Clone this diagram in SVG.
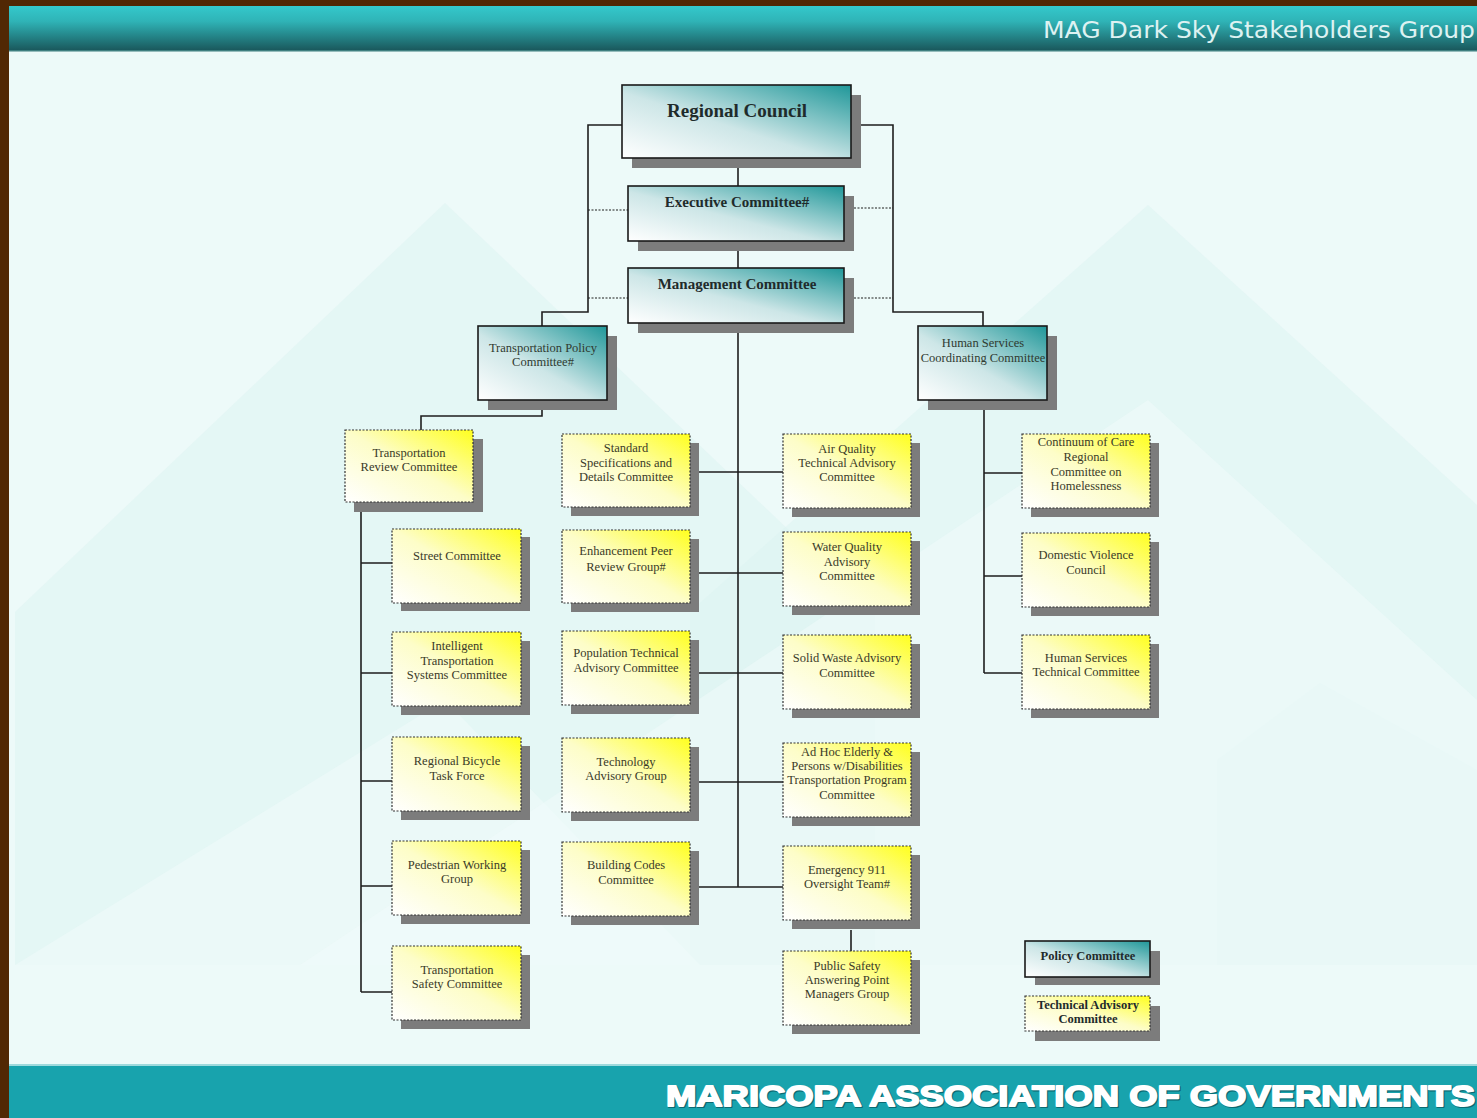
<svg xmlns="http://www.w3.org/2000/svg" width="1477" height="1118" viewBox="0 0 1477 1118">
<defs>
<linearGradient id="hdr" x1="0" y1="0" x2="0" y2="1">
<stop offset="0" stop-color="#34C9CC"/><stop offset="0.35" stop-color="#2FB3B6"/><stop offset="1" stop-color="#1A595D"/>
</linearGradient>
<linearGradient id="teal" x1="0" y1="1" x2="1" y2="0">
<stop offset="0" stop-color="#FFFFFF"/><stop offset="0.45" stop-color="#CDE6E7"/><stop offset="1" stop-color="#1F9799"/>
</linearGradient>
<linearGradient id="yel" x1="0" y1="1" x2="1" y2="0">
<stop offset="0" stop-color="#FFFFFF"/><stop offset="0.5" stop-color="#FDFDC8"/><stop offset="1" stop-color="#FFFF1E"/>
</linearGradient>
<style>
.sh{fill:#7C7C7C}
.tb{fill:url(#teal);stroke:#1A1A1A;stroke-width:1.6}
.yb{fill:url(#yel);stroke:#333;stroke-width:1.2;stroke-dasharray:2 1.5}
.ln{stroke:#1E1E1E;stroke-width:1.6;fill:none}
.dl{stroke:#1E1E1E;stroke-width:1.2;fill:none;stroke-dasharray:2 1.5}
.tt{font-family:"Liberation Serif",serif;font-weight:bold;fill:#1F2B2B;text-anchor:middle}
.t1{font-family:"Liberation Serif",serif;font-size:12.5px;fill:#2F3A30;text-anchor:middle}
.ty{font-family:"Liberation Serif",serif;font-size:12.5px;fill:#3A3A28;text-anchor:middle}
.wm{fill:#DCF3F2;opacity:0.5}
.ft{font-family:"Liberation Sans",sans-serif;font-weight:bold;font-size:30px}
</style>
</defs>
<rect x="0" y="0" width="1477" height="1118" fill="#512804"/>
<rect x="9" y="50" width="1468" height="1016" fill="#EDFAF9"/>
<g id="watermark">
<polygon class="wm" points="15,612 445,203 875,612 875,965 15,965"/>
<polygon class="wm" points="690,612 1148,205 1477,505 1477,965 690,965"/>
<polygon class="wm" points="1217,760 1320,683 1477,770 1477,965 1217,965"/>
<polygon fill="#F2FCFB" opacity="0.5" points="15,965 445,700 700,965"/>
<polygon fill="#F2FCFB" opacity="0.5" points="300,965 1148,400 1477,700 1477,965"/>
</g>
<rect x="9" y="6" width="1468" height="44" fill="url(#hdr)"/>
<rect x="9" y="50" width="1468" height="1.5" fill="#3E7F80"/>
<text x="1043" y="38" font-family="DejaVu Sans,sans-serif" font-size="23" fill="#DDF2F2" textLength="432" lengthAdjust="spacingAndGlyphs">MAG Dark Sky Stakeholders Group</text>
<rect x="9" y="1066" width="1468" height="52" fill="#18A3AD"/>
<rect x="9" y="1064" width="1468" height="2" fill="#9ED9DC"/>
<text class="ft" x="667" y="1107" fill="#0B6A72" stroke="#0B6A72" stroke-width="2.2" stroke-linejoin="round" textLength="809" lengthAdjust="spacingAndGlyphs">MARICOPA ASSOCIATION OF GOVERNMENTS</text>
<text class="ft" x="666" y="1106" fill="#FFFFFF" stroke="#FFFFFF" stroke-width="1.8" stroke-linejoin="round" textLength="809" lengthAdjust="spacingAndGlyphs">MARICOPA ASSOCIATION OF GOVERNMENTS</text>

<g id="connectors">
<path class="ln" d="M738,158 V186 M738,241 V268 M738,323 V887"/>
<path class="ln" d="M622,125 H588 V312 H542 V326"/>
<path class="ln" d="M861,125 H893 V312 H983 V326"/>
<path class="dl" d="M588,210 H628 M588,298 H628 M854,208 H893 M854,298 H893"/>
<path class="ln" d="M542,410 V416 H421 V430"/>
<path class="ln" d="M361,512 V992 M361,563 H392 M361,673 H392 M361,781 H392 M361,886 H392 M361,992 H392"/>
<path class="ln" d="M699,472 H783 M699,573 H783 M699,673 H783 M699,782 H783 M699,887 H783"/>
<path class="ln" d="M851,930 V951"/>
<path class="ln" d="M984,410 V673 M984,473 H1022 M984,576 H1022 M984,673 H1022"/>
</g>

<g id="regional-council"><rect class="sh" x="632" y="95" width="229" height="73"/><rect class="tb" x="622" y="85" width="229" height="73"/><text class="tt" x="737" y="117" font-size="19">Regional Council</text></g>
<g id="executive-committee"><rect class="sh" x="638" y="196" width="216" height="55"/><rect class="tb" x="628" y="186" width="216" height="55"/><text class="tt" x="737" y="207" font-size="15">Executive Committee#</text></g>
<g id="management-committee"><rect class="sh" x="638" y="278" width="216" height="55"/><rect class="tb" x="628" y="268" width="216" height="55"/><text class="tt" x="737" y="289" font-size="15">Management Committee</text></g>
<g id="transportation-policy"><rect class="sh" x="488" y="336" width="129" height="74"/><rect class="tb" x="478" y="326" width="129" height="74"/><text class="t1" x="543" y="352">Transportation Policy</text><text class="t1" x="543" y="366">Committee#</text></g>
<g id="human-services-coordinating"><rect class="sh" x="928" y="336" width="129" height="74"/><rect class="tb" x="918" y="326" width="129" height="74"/><text class="t1" x="983" y="347">Human Services</text><text class="t1" x="983" y="362">Coordinating Committee</text></g>

<g id="transportation-review"><rect class="sh" x="354" y="439" width="129" height="73"/><rect class="yb" x="345" y="430" width="128" height="72"/><text class="ty" x="409" y="457">Transportation</text><text class="ty" x="409" y="471">Review Committee</text></g>
<g id="street"><rect class="sh" x="401" y="537" width="129" height="74"/><rect class="yb" x="392" y="529" width="129" height="74"/><text class="ty" x="457" y="560">Street Committee</text></g>
<g id="its"><rect class="sh" x="401" y="641" width="129" height="74"/><rect class="yb" x="392" y="632" width="129" height="74"/><text class="ty" x="457" y="650">Intelligent</text><text class="ty" x="457" y="665">Transportation</text><text class="ty" x="457" y="679">Systems Committee</text></g>
<g id="bicycle"><rect class="sh" x="401" y="746" width="129" height="74"/><rect class="yb" x="392" y="737" width="129" height="74"/><text class="ty" x="457" y="765">Regional Bicycle</text><text class="ty" x="457" y="780">Task Force</text></g>
<g id="pedestrian"><rect class="sh" x="401" y="850" width="129" height="74"/><rect class="yb" x="392" y="841" width="129" height="74"/><text class="ty" x="457" y="869">Pedestrian Working</text><text class="ty" x="457" y="883">Group</text></g>
<g id="transportation-safety"><rect class="sh" x="401" y="955" width="129" height="74"/><rect class="yb" x="392" y="946" width="129" height="74"/><text class="ty" x="457" y="974">Transportation</text><text class="ty" x="457" y="988">Safety Committee</text></g>

<g id="standard-specs"><rect class="sh" x="571" y="443" width="128" height="73"/><rect class="yb" x="562" y="434" width="128" height="73"/><text class="ty" x="626" y="452">Standard</text><text class="ty" x="626" y="467">Specifications and</text><text class="ty" x="626" y="481">Details Committee</text></g>
<g id="enhancement-peer"><rect class="sh" x="571" y="539" width="128" height="73"/><rect class="yb" x="562" y="530" width="128" height="73"/><text class="ty" x="626" y="555">Enhancement Peer</text><text class="ty" x="626" y="571">Review Group#</text></g>
<g id="population-tac"><rect class="sh" x="571" y="640" width="128" height="74"/><rect class="yb" x="562" y="631" width="128" height="74"/><text class="ty" x="626" y="657">Population Technical</text><text class="ty" x="626" y="672">Advisory Committee</text></g>
<g id="technology-advisory"><rect class="sh" x="571" y="747" width="128" height="74"/><rect class="yb" x="562" y="738" width="128" height="74"/><text class="ty" x="626" y="766">Technology</text><text class="ty" x="626" y="780">Advisory Group</text></g>
<g id="building-codes"><rect class="sh" x="571" y="851" width="128" height="74"/><rect class="yb" x="562" y="842" width="128" height="74"/><text class="ty" x="626" y="869">Building Codes</text><text class="ty" x="626" y="884">Committee</text></g>

<g id="air-quality"><rect class="sh" x="792" y="443" width="128" height="74"/><rect class="yb" x="783" y="434" width="128" height="74"/><text class="ty" x="847" y="453">Air Quality</text><text class="ty" x="847" y="467">Technical Advisory</text><text class="ty" x="847" y="481">Committee</text></g>
<g id="water-quality"><rect class="sh" x="792" y="541" width="128" height="74"/><rect class="yb" x="783" y="532" width="128" height="74"/><text class="ty" x="847" y="551">Water Quality</text><text class="ty" x="847" y="566">Advisory</text><text class="ty" x="847" y="580">Committee</text></g>
<g id="solid-waste"><rect class="sh" x="792" y="644" width="128" height="74"/><rect class="yb" x="783" y="635" width="128" height="74"/><text class="ty" x="847" y="662">Solid Waste Advisory</text><text class="ty" x="847" y="677">Committee</text></g>
<g id="ad-hoc-elderly"><rect class="sh" x="792" y="752" width="128" height="74"/><rect class="yb" x="783" y="743" width="128" height="74"/><text class="ty" x="847" y="756">Ad Hoc Elderly &amp;</text><text class="ty" x="847" y="770">Persons w/Disabilities</text><text class="ty" x="847" y="784">Transportation Program</text><text class="ty" x="847" y="799">Committee</text></g>
<g id="emergency-911"><rect class="sh" x="792" y="855" width="128" height="74"/><rect class="yb" x="783" y="846" width="128" height="74"/><text class="ty" x="847" y="874">Emergency 911</text><text class="ty" x="847" y="888">Oversight Team#</text></g>
<g id="psap-managers"><rect class="sh" x="792" y="960" width="128" height="74"/><rect class="yb" x="783" y="951" width="128" height="74"/><text class="ty" x="847" y="970">Public Safety</text><text class="ty" x="847" y="984">Answering Point</text><text class="ty" x="847" y="998">Managers Group</text></g>

<g id="continuum-of-care"><rect class="sh" x="1031" y="443" width="128" height="74"/><rect class="yb" x="1022" y="434" width="128" height="74"/><text class="ty" x="1086" y="446">Continuum of Care</text><text class="ty" x="1086" y="461">Regional</text><text class="ty" x="1086" y="476">Committee on</text><text class="ty" x="1086" y="490">Homelessness</text></g>
<g id="domestic-violence"><rect class="sh" x="1031" y="542" width="128" height="74"/><rect class="yb" x="1022" y="533" width="128" height="74"/><text class="ty" x="1086" y="559">Domestic Violence</text><text class="ty" x="1086" y="574">Council</text></g>
<g id="human-services-technical"><rect class="sh" x="1031" y="644" width="128" height="74"/><rect class="yb" x="1022" y="635" width="128" height="74"/><text class="ty" x="1086" y="662">Human Services</text><text class="ty" x="1086" y="676">Technical Committee</text></g>

<g id="legend-policy"><rect class="sh" x="1035" y="951" width="125" height="34"/><rect class="tb" x="1025" y="941" width="125" height="36"/><text class="tt" x="1088" y="960" font-size="12.5">Policy Committee</text></g>
<g id="legend-technical"><rect class="sh" x="1035" y="1006" width="125" height="35"/><rect class="yb" x="1025" y="996" width="125" height="35"/><text class="tt" x="1088" y="1009" font-size="12.5" fill="#2A2A18">Technical Advisory</text><text class="tt" x="1088" y="1023" font-size="12.5" fill="#2A2A18">Committee</text></g>
</svg>
